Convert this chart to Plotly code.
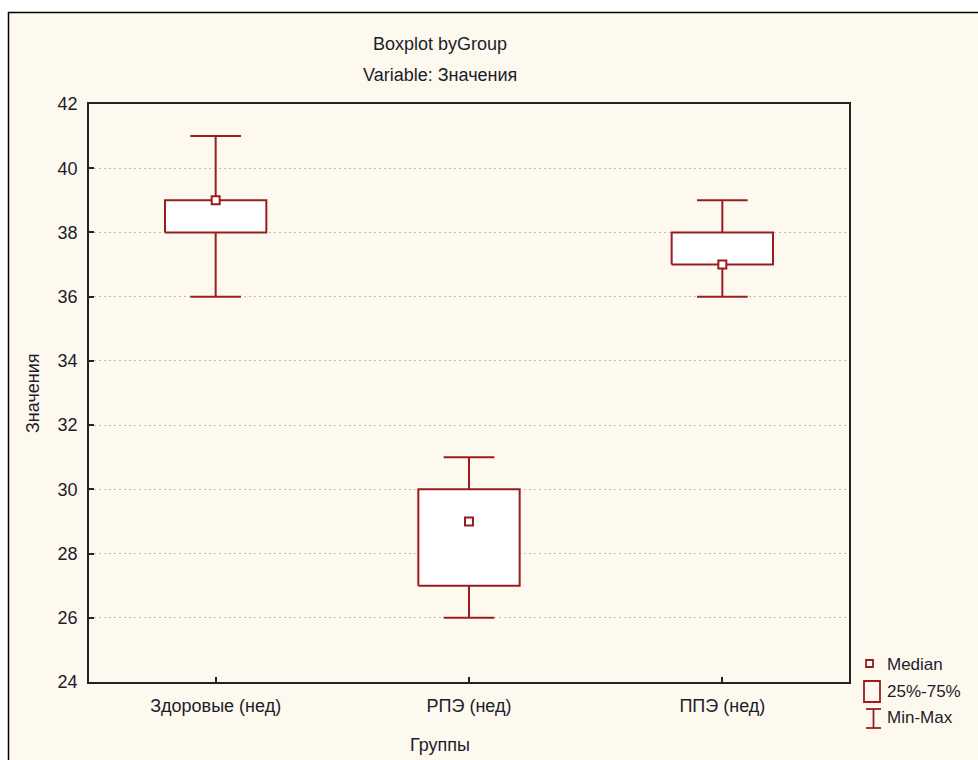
import plotly.graph_objects as go

# Box statistics per group (weeks)
groups = ["Здоровые (нед)", "РПЭ (нед)", "ППЭ (нед)"]
minimum = [36, 26, 36]
q1 = [38, 27, 37]
median = [39, 29, 37]
q3 = [39, 30, 38]
maximum = [41, 31, 39]

y_ticks = [24, 26, 28, 30, 32, 34, 36, 38, 40, 42]

RED = "#9b1c20"
CREAM = "#fef9ee"
TEXT = "#1c1c2c"
FONT = "Liberation Sans, Arial, sans-serif"
FS = 18

BOX_HALF = 0.2
CAP_HALF = 0.1

fig = go.Figure()

# 25%-75% boxes
for i in range(len(groups)):
    fig.add_trace(go.Scatter(
        x=[i - BOX_HALF, i + BOX_HALF, i + BOX_HALF, i - BOX_HALF, i - BOX_HALF],
        y=[q1[i], q1[i], q3[i], q3[i], q1[i]],
        mode="lines", fill="toself", fillcolor="white",
        line=dict(color=RED, width=2), showlegend=False, hoverinfo="skip"))

# Min-Max whiskers with caps
wx, wy = [], []
for i in range(len(groups)):
    wx += [i, i, None, i - CAP_HALF, i + CAP_HALF, None,
           i, i, None, i - CAP_HALF, i + CAP_HALF, None]
    wy += [q3[i], maximum[i], None, maximum[i], maximum[i], None,
           q1[i], minimum[i], None, minimum[i], minimum[i], None]
fig.add_trace(go.Scatter(x=wx, y=wy, mode="lines",
                         line=dict(color=RED, width=2),
                         showlegend=False, hoverinfo="skip"))

# Medians
fig.add_trace(go.Scatter(
    x=list(range(len(groups))), y=median, mode="markers",
    marker=dict(symbol="square", size=8, color="white",
                line=dict(color=RED, width=2)),
    showlegend=False))


# Pixel helpers for the decorations around the plot area
def px_x(p):
    return (p - 89) / 760.0


def px_y(p):
    return (682 - p) / 578.0


shapes = [
    # cream panel with black frame on left/top
    dict(type="rect", xref="paper", yref="paper",
         x0=px_x(8.5), x1=px_x(1200), y0=px_y(1000), y1=px_y(12.5),
         fillcolor=CREAM, line=dict(color="black", width=1.5), layer="below"),
    # median glyph
    dict(type="rect", xref="paper", yref="paper",
         x0=px_x(866), x1=px_x(873), y0=px_y(667), y1=px_y(660),
         fillcolor="white", line=dict(color=RED, width=1.8)),
    # box glyph
    dict(type="rect", xref="paper", yref="paper",
         x0=px_x(864), x1=px_x(880), y0=px_y(702), y1=px_y(681),
         fillcolor=CREAM, line=dict(color=RED, width=1.8)),
    # whisker glyph
    dict(type="line", xref="paper", yref="paper",
         x0=px_x(866), x1=px_x(881), y0=px_y(709), y1=px_y(709),
         line=dict(color=RED, width=1.8)),
    dict(type="line", xref="paper", yref="paper",
         x0=px_x(873.5), x1=px_x(873.5), y0=px_y(709), y1=px_y(728),
         line=dict(color=RED, width=1.8)),
    dict(type="line", xref="paper", yref="paper",
         x0=px_x(866), x1=px_x(881), y0=px_y(728), y1=px_y(728),
         line=dict(color=RED, width=1.8)),
]

legend_labels = [("Median", 664), ("25%-75%", 691), ("Min-Max", 717)]
annotations = []
for label, ypx in legend_labels:
    annotations.append(dict(
        text=label, xref="paper", yref="paper", x=px_x(885), y=px_y(ypx),
        xanchor="left", yanchor="middle", showarrow=False,
        font=dict(family=FONT, size=FS - 1, color=TEXT)))

# Titles
annotations += [
    dict(text="Boxplot byGroup", xref="paper", yref="paper",
         x=px_x(440), y=px_y(44), xanchor="center", yanchor="middle",
         showarrow=False, font=dict(family=FONT, size=FS, color=TEXT)),
    dict(text="Variable: Значения", xref="paper", yref="paper",
         x=px_x(440), y=px_y(75), xanchor="center", yanchor="middle",
         showarrow=False, font=dict(family=FONT, size=FS, color=TEXT)),
    dict(text="Группы", xref="paper", yref="paper",
         x=px_x(440), y=px_y(745), xanchor="center", yanchor="middle",
         showarrow=False, font=dict(family=FONT, size=FS, color=TEXT)),
    dict(text="Значения", xref="paper", yref="paper",
         x=px_x(33), y=px_y(393), xanchor="center", yanchor="middle",
         textangle=-90, showarrow=False,
         font=dict(family=FONT, size=FS, color=TEXT)),
]

fig.update_layout(
    width=978, height=760,
    margin=dict(l=89, r=129, t=104, b=78),
    paper_bgcolor="white", plot_bgcolor="white",
    showlegend=False,
    shapes=shapes, annotations=annotations,
    font=dict(family=FONT, size=FS, color=TEXT),
)

fig.update_xaxes(
    range=[-0.5, 2.5], tickmode="array",
    tickvals=list(range(len(groups))), ticktext=groups,
    ticks="inside", ticklen=5, tickcolor="#222", tickwidth=1.5,
    showline=True, linecolor="#222", linewidth=1.5, mirror=True,
    showgrid=False, zeroline=False, ticklabelstandoff=7,
    tickfont=dict(family=FONT, size=FS, color=TEXT),
)
fig.update_yaxes(
    range=[24, 42], tickmode="array", tickvals=y_ticks,
    ticks="inside", ticklen=5, tickcolor="#222", tickwidth=1.5,
    showline=True, linecolor="#222", linewidth=1.5, mirror=True,
    showgrid=True, gridcolor="#bcbcbc", gridwidth=1, griddash="2px,3px",
    zeroline=False, ticklabelstandoff=6,
    tickfont=dict(family=FONT, size=FS, color=TEXT),
)

fig.write_html("out.html")
